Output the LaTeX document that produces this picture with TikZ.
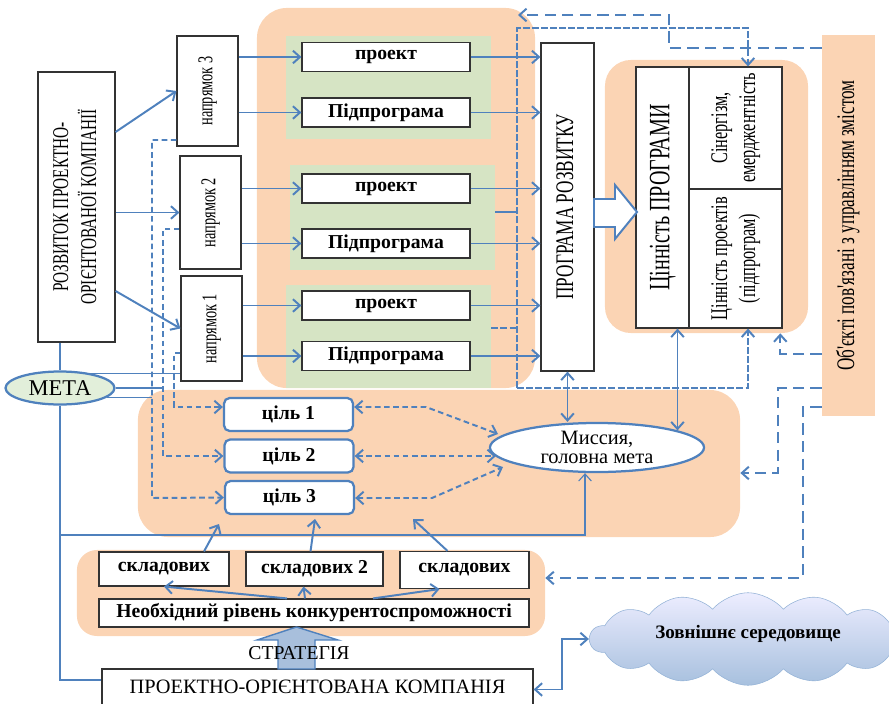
\documentclass[tikz,border=0pt]{standalone}
\usepackage{fontspec}
\setmainfont{Liberation Serif}
\newfontfamily\vuzkyi{Liberation Serif}[FakeStretch=0.68]
\usepackage{graphicx}
\usetikzlibrary{shapes.geometric}
\usetikzlibrary{shapes.symbols}
\usetikzlibrary {arrows.meta}
\usetikzlibrary{calc}
\definecolor{pomar}{HTML}{FBD4B4}
\definecolor{zelen}{HTML}{D6E4C4}
\definecolor{synij}{HTML}{4F81BD}
\definecolor{svitlozel}{HTML}{E2EFDA}
\definecolor{stal}{HTML}{A8BFDC}
\newcommand{\vtekst}[1]{\rotatebox{90}{\begin{tabular}{@{}c@{}}#1\end{tabular}}}
\tikzset{zona/.style = {
    shape=rectangle, fill=pomar, rounded corners=0.75cm
}}
\tikzset{pole/.style = {
    shape=rectangle, fill=zelen, minimum width=5.125cm, minimum height=2.575cm
}}
\tikzset{blok/.style = {
    shape=rectangle, draw=black!80, fill=white, line width=0.8pt, inner sep=0pt,
    font=\bfseries\fontsize{14}{16}\selectfont
}}
\tikzset{kletka/.style = {
    blok, minimum width=4.2cm, minimum height=0.725cm
}}
\tikzset{vblok/.style = {
    shape=rectangle, draw=black!80, fill=white, line width=0.8pt, inner sep=0pt
}}
\tikzset{tsil/.style = {
    shape=rectangle, draw=synij, fill=white, line width=1.6pt, rounded corners=4pt,
    minimum width=3.225cm, minimum height=0.825cm, font=\bfseries\fontsize{14}{16}\selectfont
}}
\tikzset{liniya/.style = {draw=synij, line width=1.4pt}}
\tikzset{tonka/.style = {draw=synij, line width=0.8pt}}
\tikzset{shtrykh/.style = {liniya, dash pattern=on 8pt off 4.5pt}}
\tikzset{dribnyi/.style = {liniya, dash pattern=on 4pt off 2.5pt}}
\tikzset{ramka/.style = {liniya, dash pattern=on 5pt off 1.5pt}}

\begin{document}
\begin{tikzpicture}[x=0.025cm, y=-0.025cm, >={Straight Barb[length=5pt,width=9pt]}]
  \useasboundingbox (0,0) rectangle (889,704);
  \node (zona1) at (396,198) [zona, minimum width=6.95cm, minimum height=9.5cm] {};
  \node (zona2) at (706.5,196.5) [zona, minimum width=5.075cm, minimum height=6.825cm, rounded corners=0.65cm] {};
  \node (zona3) at (439,463.5) [zona, minimum width=15.05cm, minimum height=3.675cm] {};
  \node (zona4) at (311,593) [zona, minimum width=11.7cm, minimum height=2.15cm, rounded corners=0.5cm] {};
  \node (pole1) at (388.5,87.5) [pole] {};
  \node (pole2) at (392.5,217.5) [pole, minimum height=2.625cm] {};
  \node (pole3) at (388.5,336.5) [pole] {};

  \node (rozv) at (76.5,207) [vblok, minimum width=1.925cm, minimum height=6.75cm, font=\vuzkyi\fontsize{16}{20}\selectfont] {\vtekst{РОЗВИТОК ПРОЕКТНО-\\ОРІЄНТОВАНОЇ КОМПАНІЇ}};
  \node (n3) at (207.5,91) [vblok, minimum width=1.525cm, minimum height=2.75cm, font=\vuzkyi\fontsize{15}{17}\selectfont] {\vtekst{напрямок 3}};
  \node (n2) at (210.5,212.5) [vblok, minimum width=1.525cm, minimum height=2.825cm, font=\vuzkyi\fontsize{15}{17}\selectfont] {\vtekst{напрямок 2}};
  \node (n1) at (211.5,328.5) [vblok, minimum width=1.525cm, minimum height=2.625cm, font=\vuzkyi\fontsize{15}{17}\selectfont] {\vtekst{напрямок 1}};

  \node (pr1) at (386,57) [kletka] {проект};
  \node (pp1) at (386,112.5) [kletka] {Підпрограма};
  \node (pr2) at (386,188.5) [kletka] {проект};
  \node (pp2) at (386,243.5) [kletka] {Підпрограма};
  \node (pr3) at (386,305.5) [kletka] {проект};
  \node (pp3) at (386,356) [kletka] {Підпрограма};

  \node (prog) at (567.5,207) [vblok, minimum width=1.325cm, minimum height=8.2cm, font=\vuzkyi\fontsize{18}{20}\selectfont] {\vtekst{ПРОГРАМА РОЗВИТКУ}};
  \node (tsin) at (662.5,197.5) [vblok, minimum width=1.325cm, minimum height=6.525cm, font=\vuzkyi\fontsize{21}{24}\selectfont] {\vtekst{Цінність ПРОГРАМИ}};
  \node (syn) at (735.5,128) [vblok, minimum width=2.325cm, minimum height=3.05cm, font=\vuzkyi\fontsize{17}{20}\selectfont] {\vtekst{Сінергізм,\\емерджентність}};
  \node (tsproekt) at (735.5,258.5) [vblok, minimum width=2.325cm, minimum height=3.475cm, font=\vuzkyi\fontsize{17}{20}\selectfont] {\vtekst{Цінність проектів\\(підпрограм)}};
  \node (obj) at (848.5,225.5) [shape=rectangle, fill=pomar, minimum width=1.325cm, minimum height=9.525cm, inner sep=0pt, font=\vuzkyi\fontsize{18}{20}\selectfont] {\vtekst{Об'єкті пов'язані з управлінням змістом}};
  \draw[liniya, fill=white] (594,199) -- (615,199) -- (615,185) -- (637,212) -- (615,239) -- (615,227) -- (594,227) -- cycle;

  \node (c1) at (288.5,414.5) [tsil] {ціль 1};
  \node (c2) at (289,456) [tsil] {ціль 2};
  \node (c3) at (289.5,497.5) [tsil] {ціль 3};
  \node (mis) at (597,447.5) [ellipse, draw=synij, fill=white, line width=1.6pt, minimum width=5.35cm, minimum height=1.225cm, inner sep=0pt, align=center, font=\fontsize{14.5}{13}\selectfont] {Миссия,\\головна мета};
  \node (meta) at (60,388) [ellipse, draw=synij, fill=svitlozel, line width=1.6pt, minimum width=2.725cm, minimum height=0.825cm, inner sep=0pt, font=\fontsize{16}{18}\selectfont] {МЕТА};

  \node (sk1) at (164,569) [blok, minimum width=3.25cm, minimum height=0.85cm] {складових};
  \node (sk2) at (314.5,569) [blok, minimum width=3.425cm, minimum height=0.85cm] {складових 2};
  \node (sk3) at (464.5,570) [blok, minimum width=3.225cm, minimum height=0.925cm] {складових};
  \node (neobh) at (314,613) [blok, minimum width=10.75cm, minimum height=0.7cm] {Необхідний рівень конкурентоспроможності};
  \node (pk) at (317.5,689.5) [blok, minimum width=10.775cm, minimum height=1.025cm, font=\fontsize{14.5}{16}\selectfont] {\raisebox{4pt}{ПРОЕКТНО-ОРІЄНТОВАНА КОМПАНІЯ}};
  \draw[liniya, line width=1pt, fill=stal] (278,669) -- (278,640) -- (257,640) -- (296.5,627) -- (338,640) -- (315,640) -- (315,669) -- cycle;
  \node (strat) at (299,653) [font=\fontsize{14}{15}\selectfont] {СТРАТЕГІЯ};
  \node (khmara) at (748,639) [cloud, cloud puffs=14, cloud puff arc=100, aspect=4.2, draw=synij!60, top color=blue!7, bottom color=synij!50, minimum width=7.9cm, minimum height=1.9cm, font=\bfseries\fontsize{13.5}{16}\selectfont] {\raisebox{10pt}{Зовнішнє середовище}};

  \draw[liniya,->] (rozv.east |- 0,132) -- (n3.west);
  \draw[liniya,->] (rozv.east |- n2.west) -- (n2.west);
  \draw[liniya,->] (rozv.east |- 0,291) -- (n1.west);
  \draw[liniya,->] (n3.east |- pr1) -- (pr1.west);
  \draw[liniya,->] (n3.east |- pp1) -- (pp1.west);
  \draw[liniya,->] (n2.east |- pr2) -- (pr2.west);
  \draw[liniya,->] (n2.east |- pp2) -- (pp2.west);
  \draw[liniya,->] (n1.east |- pr3) -- (pr3.west);
  \draw[liniya,->] (n1.east |- pp3) -- (pp3.west);
  \draw[liniya,->] (pr1.east) -- (pr1.east -| prog.west);
  \draw[liniya,->] (pp1.east) -- (pp1.east -| prog.west);
  \draw[liniya,->] (pr2.east) -- (pr2.east -| prog.west);
  \draw[liniya,->] (pp2.east) -- (pp2.east -| prog.west);
  \draw[liniya,->] (pr3.east) -- (pr3.east -| prog.west);
  \draw[liniya,->] (pp3.east) -- (pp3.east -| prog.west);

  \coordinate (rv) at (517,28);
  \coordinate (rn) at (517,388);
  \draw[ramka,->] (rn) -- (rv) -| ($(syn.north)+(12.5,0)$);
  \draw[ramka,->] (rn) -| ($(tsproekt.south)+(12.5,0)$);
  \draw[liniya] (pole2.east |- 0,212) -- (rv |- 0,212);
  \draw[ramka] (pole3.east |- 0,328) -- (rv |- 0,328);

  \coordinate (kin) at (518,15);
  \draw[shtrykh,->] (obj.west |- 0,48) -| (669,15) -- (kin);
  \draw[shtrykh,->] (obj.west |- 0,354) -| ($(zona2.south east)+(-28,0)$);
  \draw[shtrykh,->] (obj.west |- 0,388) -| (778,473) -- (zona3.east |- 0,473);
  \draw[shtrykh,->] (obj.west |- 0,407) -| (803,578) -- (zona4.east |- 0,578);

  \draw[dribnyi,->] (n1.west |- 0,353) -| (174,407) -- (c1.west |- 0,407);
  \draw[dribnyi,->] (n2.west |- 0,229) -| (163,456) -- (c2.west);
  \draw[dribnyi,->] (n3.west |- 0,140) -| (152,498) -- (c3.west);

  \coordinate (m1) at (426,407);
  \coordinate (m1k) at (498,434);
  \coordinate (m2k) at (496,457);
  \coordinate (m3) at (432,498);
  \coordinate (m3k) at (503,467);
  \draw[dribnyi,<->] (c1.east |- m1) -- (m1) -- (m1k);
  \draw[dribnyi,<->] (c2.east) -- (c2.east -| m2k);
  \draw[dribnyi,<->] (c3.east |- m3) -- (m3) -- (m3k);
  \draw[liniya,<->] (prog.south) -- (prog.south |- mis.north);
  \draw[liniya,<->] (tsin.south -| mis.12) -- (mis.12);

  \draw[tonka] (rozv.south -| meta.north) -- (meta.north);
  \draw[tonka] (meta.26) -- (meta.26 -| n1.west);
  \draw[tonka] (meta.east) -- (meta.east -| 163,0);
  \draw[tonka] (meta.-11) -- (meta.-11 -| 152,0);
  \draw[tonka] (meta.south) |- (pk.west |- 0,680);
  \draw[tonka,->] (meta.south |- 0,535) -| ($(mis.south)+(-12,0)$);

  \draw[liniya,->] ($(neobh.north)+(-27,0)$) -- (sk1.south);
  \draw[liniya,->] ($(neobh.north)+(-9,0)$) -- ($(sk2.south)+(-11,0)$);
  \draw[liniya,->] ($(neobh.north)+(59,0)$) -- ($(sk3.south)+(-25,0)$);
  \coordinate (z1) at (219,524);
  \coordinate (z2) at (315,519);
  \coordinate (z3) at (413,519);
  \draw[liniya,->] ($(sk1.north)+(40,0)$) -- (z1);
  \draw[liniya,->] ($(sk2.north)+(-4,0)$) -- (z2);
  \draw[liniya,->] ($(sk3.north)+(-17,0)$) -- (z3);
  \draw[liniya,<->] (pk.east) -- ++(28,0) |- (khmara.west);
\end{tikzpicture}
\end{document}
